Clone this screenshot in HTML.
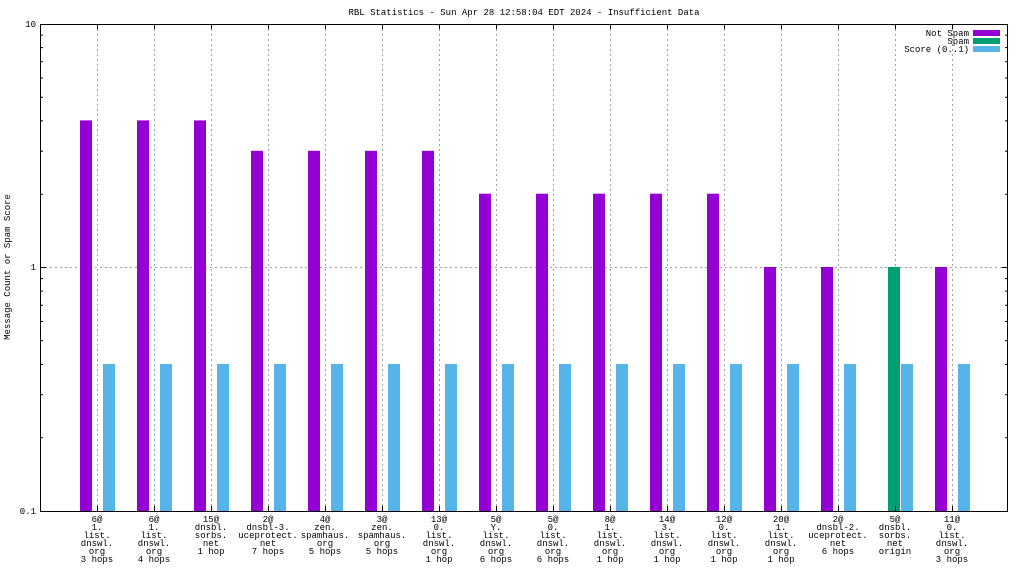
<!DOCTYPE html>
<html><head><meta charset="utf-8"><style>
body{margin:0;background:#fff;}
svg text{font-family:"Liberation Mono","DejaVu Sans Mono",monospace;font-size:9px;fill:#000;}
</style></head><body>
<svg width="1024" height="576" xmlns="http://www.w3.org/2000/svg">
<rect width="1024" height="576" fill="#fff"/>
<text x="524" y="15" text-anchor="middle">RBL Statistics - Sun Apr 28 12:58:04 EDT 2024 - Insufficient Data</text>
<text transform="translate(10,267) rotate(-90)" text-anchor="middle">Message Count or Spam Score</text>
<g stroke="#a0a0a0" stroke-dasharray="2,3" stroke-width="1">
<line x1="40" y1="267.5" x2="1008" y2="267.5"/>
<line x1="97.5" y1="24" x2="97.5" y2="511"/><line x1="154.5" y1="24" x2="154.5" y2="511"/><line x1="211.5" y1="24" x2="211.5" y2="511"/><line x1="268.5" y1="24" x2="268.5" y2="511"/><line x1="325.5" y1="24" x2="325.5" y2="511"/><line x1="382.5" y1="24" x2="382.5" y2="511"/><line x1="439.5" y1="24" x2="439.5" y2="511"/><line x1="496.5" y1="24" x2="496.5" y2="511"/><line x1="553.5" y1="24" x2="553.5" y2="511"/><line x1="610.5" y1="24" x2="610.5" y2="511"/><line x1="667.5" y1="24" x2="667.5" y2="511"/><line x1="724.5" y1="24" x2="724.5" y2="511"/><line x1="781.5" y1="24" x2="781.5" y2="511"/><line x1="838.5" y1="24" x2="838.5" y2="511"/><line x1="895.5" y1="24" x2="895.5" y2="511"/><line x1="952.5" y1="24" x2="952.5" y2="511"/>
</g>
<g fill="#9400d3">
<rect x="80" y="120.4" width="12" height="390.6"/>
<rect x="137" y="120.4" width="12" height="390.6"/>
<rect x="194" y="120.4" width="12" height="390.6"/>
<rect x="251" y="150.8" width="12" height="360.2"/>
<rect x="308" y="150.8" width="12" height="360.2"/>
<rect x="365" y="150.8" width="12" height="360.2"/>
<rect x="422" y="150.8" width="12" height="360.2"/>
<rect x="479" y="193.7" width="12" height="317.3"/>
<rect x="536" y="193.7" width="12" height="317.3"/>
<rect x="593" y="193.7" width="12" height="317.3"/>
<rect x="650" y="193.7" width="12" height="317.3"/>
<rect x="707" y="193.7" width="12" height="317.3"/>
<rect x="764" y="267" width="12" height="244"/>
<rect x="821" y="267" width="12" height="244"/>
<rect x="935" y="267" width="12" height="244"/>
</g>
<rect x="888" y="267" width="12" height="244" fill="#009e73"/>
<g fill="#56b4e9">
<rect x="103" y="364" width="12" height="147"/><rect x="160" y="364" width="12" height="147"/><rect x="217" y="364" width="12" height="147"/><rect x="274" y="364" width="12" height="147"/><rect x="331" y="364" width="12" height="147"/><rect x="388" y="364" width="12" height="147"/><rect x="445" y="364" width="12" height="147"/><rect x="502" y="364" width="12" height="147"/><rect x="559" y="364" width="12" height="147"/><rect x="616" y="364" width="12" height="147"/><rect x="673" y="364" width="12" height="147"/><rect x="730" y="364" width="12" height="147"/><rect x="787" y="364" width="12" height="147"/><rect x="844" y="364" width="12" height="147"/><rect x="901" y="364" width="12" height="147"/><rect x="958" y="364" width="12" height="147"/>
</g>
<g stroke="#000" stroke-width="1">
<rect x="40.5" y="24.5" width="967" height="487" fill="none"/>
<path d="M40 437.7h3M40 394.8h3M40 364.4h3M40 340.8h3M40 321.5h3M40 305.2h3M40 291.1h3M40 278.6h3M40 194.2h3M40 151.3h3M40 120.9h3M40 97.3h3M40 78h3M40 61.7h3M40 47.6h3M40 35.1h3M40 267.5h6"/>
<path d="M1008 437.7h-3M1008 394.8h-3M1008 364.4h-3M1008 340.8h-3M1008 321.5h-3M1008 305.2h-3M1008 291.1h-3M1008 278.6h-3M1008 194.2h-3M1008 151.3h-3M1008 120.9h-3M1008 97.3h-3M1008 78h-3M1008 61.7h-3M1008 47.6h-3M1008 35.1h-3M1008 267.5h-6"/>
<path d="M97.5 24v5M154.5 24v5M211.5 24v5M268.5 24v5M325.5 24v5M382.5 24v5M439.5 24v5M496.5 24v5M553.5 24v5M610.5 24v5M667.5 24v5M724.5 24v5M781.5 24v5M838.5 24v5M895.5 24v5M952.5 24v5"/>
<path d="M97.5 511v-5M154.5 511v-5M211.5 511v-5M268.5 511v-5M325.5 511v-5M382.5 511v-5M439.5 511v-5M496.5 511v-5M553.5 511v-5M610.5 511v-5M667.5 511v-5M724.5 511v-5M781.5 511v-5M838.5 511v-5M895.5 511v-5M952.5 511v-5"/>
</g>
<text x="36" y="27" text-anchor="end">10</text>
<text x="36" y="270" text-anchor="end">1</text>
<text x="36" y="514" text-anchor="end">0.1</text>
<text x="969" y="36" text-anchor="end">Not Spam</text>
<text x="969" y="44" text-anchor="end">Spam</text>
<text x="969" y="52" text-anchor="end">Score (0..1)</text>
<rect x="973" y="30" width="27" height="6" fill="#9400d3"/>
<rect x="973" y="38" width="27" height="6" fill="#009e73"/>
<rect x="973" y="46" width="27" height="6" fill="#56b4e9"/>
<g text-anchor="middle">
<text x="97" y="522"><tspan x="97">6@</tspan><tspan x="97" dy="8">1.</tspan><tspan x="97" dy="8">list.</tspan><tspan x="97" dy="8">dnswl.</tspan><tspan x="97" dy="8">org</tspan><tspan x="97" dy="8">3 hops</tspan></text>
<text x="154" y="522"><tspan x="154">6@</tspan><tspan x="154" dy="8">1.</tspan><tspan x="154" dy="8">list.</tspan><tspan x="154" dy="8">dnswl.</tspan><tspan x="154" dy="8">org</tspan><tspan x="154" dy="8">4 hops</tspan></text>
<text x="211" y="522"><tspan x="211">15@</tspan><tspan x="211" dy="8">dnsbl.</tspan><tspan x="211" dy="8">sorbs.</tspan><tspan x="211" dy="8">net</tspan><tspan x="211" dy="8">1 hop</tspan></text>
<text x="268" y="522"><tspan x="268">2@</tspan><tspan x="268" dy="8">dnsbl-3.</tspan><tspan x="268" dy="8">uceprotect.</tspan><tspan x="268" dy="8">net</tspan><tspan x="268" dy="8">7 hops</tspan></text>
<text x="325" y="522"><tspan x="325">4@</tspan><tspan x="325" dy="8">zen.</tspan><tspan x="325" dy="8">spamhaus.</tspan><tspan x="325" dy="8">org</tspan><tspan x="325" dy="8">5 hops</tspan></text>
<text x="382" y="522"><tspan x="382">3@</tspan><tspan x="382" dy="8">zen.</tspan><tspan x="382" dy="8">spamhaus.</tspan><tspan x="382" dy="8">org</tspan><tspan x="382" dy="8">5 hops</tspan></text>
<text x="439" y="522"><tspan x="439">13@</tspan><tspan x="439" dy="8">0.</tspan><tspan x="439" dy="8">list.</tspan><tspan x="439" dy="8">dnswl.</tspan><tspan x="439" dy="8">org</tspan><tspan x="439" dy="8">1 hop</tspan></text>
<text x="496" y="522"><tspan x="496">5@</tspan><tspan x="496" dy="8">Y.</tspan><tspan x="496" dy="8">list.</tspan><tspan x="496" dy="8">dnswl.</tspan><tspan x="496" dy="8">org</tspan><tspan x="496" dy="8">6 hops</tspan></text>
<text x="553" y="522"><tspan x="553">5@</tspan><tspan x="553" dy="8">0.</tspan><tspan x="553" dy="8">list.</tspan><tspan x="553" dy="8">dnswl.</tspan><tspan x="553" dy="8">org</tspan><tspan x="553" dy="8">6 hops</tspan></text>
<text x="610" y="522"><tspan x="610">8@</tspan><tspan x="610" dy="8">1.</tspan><tspan x="610" dy="8">list.</tspan><tspan x="610" dy="8">dnswl.</tspan><tspan x="610" dy="8">org</tspan><tspan x="610" dy="8">1 hop</tspan></text>
<text x="667" y="522"><tspan x="667">14@</tspan><tspan x="667" dy="8">3.</tspan><tspan x="667" dy="8">list.</tspan><tspan x="667" dy="8">dnswl.</tspan><tspan x="667" dy="8">org</tspan><tspan x="667" dy="8">1 hop</tspan></text>
<text x="724" y="522"><tspan x="724">12@</tspan><tspan x="724" dy="8">0.</tspan><tspan x="724" dy="8">list.</tspan><tspan x="724" dy="8">dnswl.</tspan><tspan x="724" dy="8">org</tspan><tspan x="724" dy="8">1 hop</tspan></text>
<text x="781" y="522"><tspan x="781">20@</tspan><tspan x="781" dy="8">1.</tspan><tspan x="781" dy="8">list.</tspan><tspan x="781" dy="8">dnswl.</tspan><tspan x="781" dy="8">org</tspan><tspan x="781" dy="8">1 hop</tspan></text>
<text x="838" y="522"><tspan x="838">2@</tspan><tspan x="838" dy="8">dnsbl-2.</tspan><tspan x="838" dy="8">uceprotect.</tspan><tspan x="838" dy="8">net</tspan><tspan x="838" dy="8">6 hops</tspan></text>
<text x="895" y="522"><tspan x="895">5@</tspan><tspan x="895" dy="8">dnsbl.</tspan><tspan x="895" dy="8">sorbs.</tspan><tspan x="895" dy="8">net</tspan><tspan x="895" dy="8">origin</tspan></text>
<text x="952" y="522"><tspan x="952">11@</tspan><tspan x="952" dy="8">0.</tspan><tspan x="952" dy="8">list.</tspan><tspan x="952" dy="8">dnswl.</tspan><tspan x="952" dy="8">org</tspan><tspan x="952" dy="8">3 hops</tspan></text>
</g>
</svg>
</body></html>
